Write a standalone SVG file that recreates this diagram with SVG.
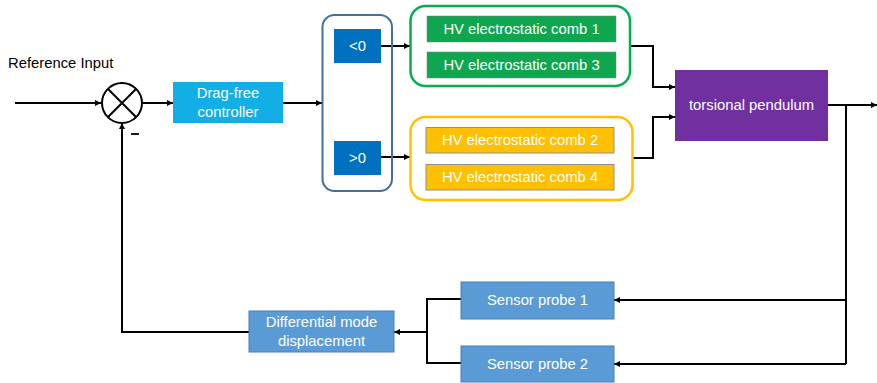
<svg xmlns="http://www.w3.org/2000/svg" width="877" height="383" viewBox="0 0 877 383">
<defs>
<marker id="ah" viewBox="0 0 10 10" refX="10" refY="5" markerWidth="6" markerHeight="6" markerUnits="userSpaceOnUse" orient="auto">
<path d="M0,0 L10,5 L0,10 z" fill="#000"/>
</marker>
<style>
.t{font-family:"Liberation Sans",Arial,sans-serif;font-size:14.8px;fill:#fff;text-anchor:middle;dominant-baseline:central}
.c{fill:none;stroke:#000;stroke-width:2}
.a{marker-end:url(#ah)}
.blue{fill:#5b9bd5;stroke:#4a7fb5;stroke-width:1}
.dark{fill:#0070c0}
.green{fill:#0fa650;stroke:#7f7f7f;stroke-width:0.5}
.yellow{fill:#ffc000;stroke:#8f8f8f;stroke-width:1}
</style>
</defs>
<rect width="877" height="383" fill="#fff"/>
<text x="8" y="68" style="font-family:'Liberation Sans',Arial,sans-serif;font-size:14.8px;fill:#000">Reference Input</text>

<g id="connectors">
<path class="c a" d="M15,103 H101"/>
<path class="c a" d="M142,103 H173"/>
<path class="c a" d="M283,103 H322"/>
<path class="c a" d="M381,46 H410"/>
<path class="c a" d="M381,157 H410"/>
<path class="c a" d="M630,46 H653 V87 H675"/>
<path class="c a" d="M632,158 H653 V117 H675"/>
<path class="c a" d="M828,105 H877"/>
<path class="c" d="M846,105 V364"/>
<path class="c a" d="M846,300 H614"/>
<path class="c a" d="M846,364 H614"/>
<path class="c" d="M461,299 H427 V363 H461"/>
<path class="c a" d="M427,332 H394"/>
<path class="c a" d="M249,332 H122 V123"/>
</g>

<g id="sum">
<circle cx="122" cy="103" r="20" fill="#fff" stroke="#000" stroke-width="2"/>
<path d="M108,89 L136,117 M136,89 L108,117" stroke="#000" stroke-width="2"/>
<path d="M131,134 H139" stroke="#000" stroke-width="1.8"/>
</g>

<g id="dragfree">
<rect x="173" y="82" width="110" height="41" fill="#12aee6"/>
<text class="t" x="228" y="93">Drag-free</text>
<text class="t" x="228" y="112">controller</text>
</g>

<g id="switch">
<rect x="322.5" y="15" width="69.5" height="176" rx="12" fill="none" stroke="#41719c" stroke-width="2"/>
</g>
<g id="neg">
<rect class="dark" x="334" y="29" width="47" height="34"/>
<text class="t" x="357.5" y="46">&lt;0</text>
</g>
<g id="pos">
<rect class="dark" x="334" y="141" width="47" height="34"/>
<text class="t" x="357.5" y="158">&gt;0</text>
</g>

<g id="greengroup">
<rect x="410.5" y="6" width="219.5" height="80" rx="15" fill="none" stroke="#00b050" stroke-width="2.5"/>
<rect class="green" x="427" y="16" width="189" height="26"/>
<text class="t" x="521.5" y="29">HV electrostatic comb 1</text>
<rect class="green" x="427" y="52" width="189" height="26"/>
<text class="t" x="521.5" y="65">HV electrostatic comb 3</text>
</g>

<g id="yellowgroup">
<rect x="410.5" y="117" width="222" height="83" rx="15" fill="none" stroke="#ffc000" stroke-width="2.5"/>
<rect class="yellow" x="426" y="127.5" width="188" height="25.5"/>
<text class="t" x="520" y="140">HV electrostatic comb 2</text>
<rect class="yellow" x="426" y="164.5" width="188" height="25.5"/>
<text class="t" x="520" y="177">HV electrostatic comb 4</text>
</g>

<g id="pendulum">
<rect x="675" y="70" width="153" height="71" fill="#7030a0"/>
<text class="t" x="751.5" y="105">torsional pendulum</text>
</g>

<g id="probe1">
<rect class="blue" x="461" y="282" width="153" height="37"/>
<text class="t" x="537.5" y="300">Sensor probe 1</text>
</g>
<g id="probe2">
<rect class="blue" x="461" y="346" width="153" height="36"/>
<text class="t" x="537.5" y="364">Sensor probe 2</text>
</g>

<g id="dmd">
<rect class="blue" x="249" y="311" width="145" height="41"/>
<text class="t" x="321.5" y="322">Differential mode</text>
<text class="t" x="321.5" y="341">displacement</text>
</g>
</svg>
